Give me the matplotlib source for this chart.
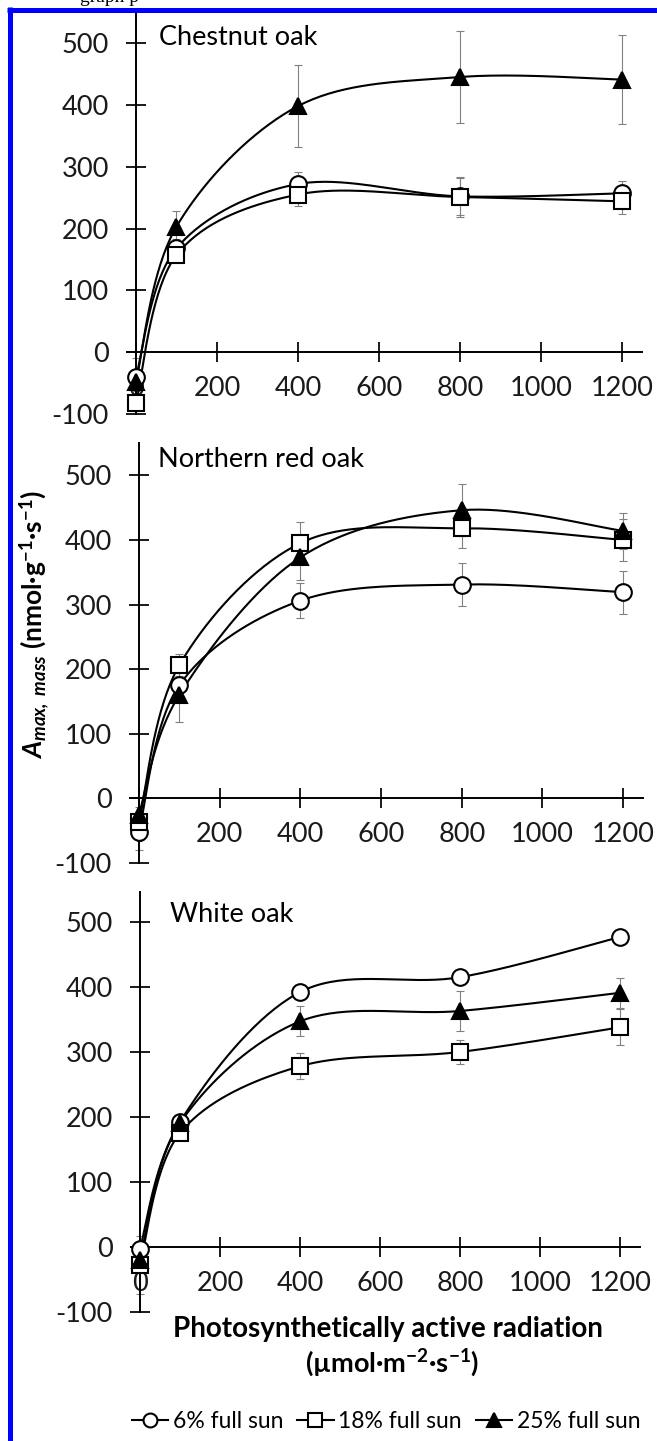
import numpy as np
import matplotlib
matplotlib.use('Agg')
import matplotlib.pyplot as plt
from matplotlib.lines import Line2D

plt.rcParams['font.family'] = ['Lato', 'DejaVu Sans']
plt.rcParams['mathtext.fontset'] = 'custom'
plt.rcParams['mathtext.rm'] = 'Lato'
plt.rcParams['mathtext.it'] = 'Lato:italic'
plt.rcParams['mathtext.bf'] = 'Lato:bold'
plt.rcParams['mathtext.bfit'] = 'Lato:italic:bold'
plt.rcParams['axes.unicode_minus'] = False

# light level (PAR, umol m-2 s-1)
par = [0, 100, 400, 800, 1200]

# Chestnut oak
chestnut_6 = [-40, 168, 272, 252, 257]
chestnut_6_err = [30, 15, 20, 30, 20]
chestnut_18 = [-82, 157, 255, 251, 244]
chestnut_18_err = [10, 10, 18, 32, 20]
chestnut_25 = [-48, 203, 398, 445, 441]
chestnut_25_err = [15, 25, 66, 75, 72]

# Northern red oak
red_6 = [-52, 175, 306, 331, 319]
red_6_err = [28, 15, 27, 34, 33]
red_18 = [-37, 206, 395, 418, 400]
red_18_err = [15, 17, 32, 31, 33]
red_25 = [-25, 160, 373, 446, 414]
red_25_err = [12, 42, 35, 40, 28]

# White oak
white_6 = [-3, 192, 392, 415, 477]
white_6_err = [0, 8, 8, 10, 8]
white_18 = [-28, 175, 278, 300, 338]
white_18_err = [45, 8, 20, 19, 28]
white_25 = [-20, 190, 347, 363, 391]
white_25_err = [10, 10, 23, 31, 23]

species = ['Chestnut oak', 'Northern red oak', 'White oak']
labels = ['6% full sun', '18% full sun', '25% full sun']
xticks = [0, 200, 400, 600, 800, 1000, 1200]
yticks = [-100, 0, 100, 200, 300, 400, 500]

W, H = 657, 1441

#smooth line like the spreadsheet one (bezier through the points)
def smooth(x, y, n=40):
    x = np.asarray(x, float)
    y = np.asarray(y, float)
    px = np.concatenate([[x[0]], x, [x[-1]]])
    py = np.concatenate([[y[0]], y, [y[-1]]])
    t = np.linspace(0, 1, n)[:, None]
    out = []
    for i in range(len(x) - 1):
        p0 = np.array([px[i], py[i]])
        p1 = np.array([px[i+1], py[i+1]])
        p2 = np.array([px[i+2], py[i+2]])
        p3 = np.array([px[i+3], py[i+3]])
        c1 = p1 + (p2 - p0) / 6
        c2 = p2 - (p3 - p1) / 6
        seg = (1-t)**3*p1 + 3*(1-t)**2*t*c1 + 3*(1-t)*t**2*c2 + t**3*p2
        out.append(seg)
    out = np.vstack(out)
    return out[:, 0], out[:, 1]

fig = plt.figure(figsize=(W/100, H/100), dpi=100)

# panel boxes in pixels: left, right, y of -100, y of top, ylim top
boxes = [(127, 642, 414, 14, 547), (130, 643, 863, 443, 550), (131, 640, 1312, 892, 546)]
titles_px = [(159, 45), (158, 467), (170, 922)]
data = [
    [(chestnut_6, chestnut_6_err), (chestnut_18, chestnut_18_err), (chestnut_25, chestnut_25_err)],
    [(red_6, red_6_err), (red_18, red_18_err), (red_25, red_25_err)],
    [(white_6, white_6_err), (white_18, white_18_err), (white_25, white_25_err)],
]
styles = [dict(marker='o', mfc='white'), dict(marker='s', mfc='white'), dict(marker='^', mfc='black')]

for k in range(3):
    l, r, yb, yt, ytop = boxes[k]
    ax = fig.add_axes([l/W, 1 - yb/H, (r-l)/W, (yb-yt)/H])
    ax.set_xlim(-22, 1249)
    ax.set_ylim(-100, ytop)
    for s in ['top', 'right']:
        ax.spines[s].set_visible(False)
    ax.spines['left'].set_position(('data', 0))
    ax.spines['bottom'].set_position(('data', 0))
    ax.spines['left'].set_linewidth(1.4)
    ax.spines['bottom'].set_linewidth(1.4)
    ax.set_xticks(xticks)
    ax.set_yticks(yticks)
    ax.tick_params(direction='inout', length=14, width=1.4, labelsize=19.5, colors='#1a1a1a')
    ax.tick_params(axis='y', pad=12.5)
    ax.tick_params(axis='x', pad=10)
    ax.patch.set_alpha(0)
    for j in range(3):
        yv, ye = data[k][j]
        ax.errorbar(par, yv, yerr=ye, fmt='none', ecolor='#808080', elinewidth=0.8,
                    capsize=3, capthick=0.8, zorder=2, clip_on=False)
        sx, sy = smooth(par, yv)
        ax.plot(sx, sy, color='black', lw=1.5, zorder=3, clip_on=False)
    for j in range(3):
        yv, ye = data[k][j]
        ax.plot(par, yv, ls='none', mec='black', mew=1.5, ms=12, zorder=4+j,
                clip_on=False, **styles[j])
    tx, ty = titles_px[k]
    fig.text(tx/W, 1 - ty/H, species[k], fontsize=19.5, ha='left', va='baseline')

fig.text(35/W, 1 - 625/H,
         r'$\mathbfit{A}_{\mathbfit{max,\ mass}}$ (nmol·g$^{\mathbf{-1}}$·s$^{\mathbf{-1}}$)',
         rotation=90, fontsize=19, fontweight='bold', ha='center', va='center')
fig.text(388/W, 1 - 1337/H, 'Photosynthetically active radiation', fontsize=20,
         fontweight='bold', ha='center', va='baseline')
fig.text(392/W, 1 - 1372/H, r'(µmol·m$^{\mathbf{-2}}$·s$^{\mathbf{-1}}$)', fontsize=19.5,
         fontweight='bold', ha='center', va='baseline')

handles = [Line2D([], [], color='black', lw=1.5, mec='black', mew=1.5, ms=10, **styles[j])
           for j in range(3)]
fig.legend(handles, labels, loc='center', bbox_to_anchor=(386/W, 1 - 1422/H), ncol=3,
           frameon=False, fontsize=16.5, handlelength=1.6, handletextpad=0.2,
           columnspacing=0.6, borderpad=0)

# cropped page border and text above it
fig.add_artist(Line2D([9.5/W, 9.5/W], [0, 1 - 7/H], color='#0000ff', lw=3.6,
                      transform=fig.transFigure, solid_capstyle='butt'))
fig.add_artist(Line2D([7/W, 1], [1 - 9.5/H, 1 - 9.5/H], color='#0000ff', lw=3.6,
                      transform=fig.transFigure, solid_capstyle='butt'))
fig.text(80/W, 1 - 2/H, 'graph p', fontsize=14, family='Liberation Serif', va='baseline')

fig.savefig('out.png', dpi=100)
